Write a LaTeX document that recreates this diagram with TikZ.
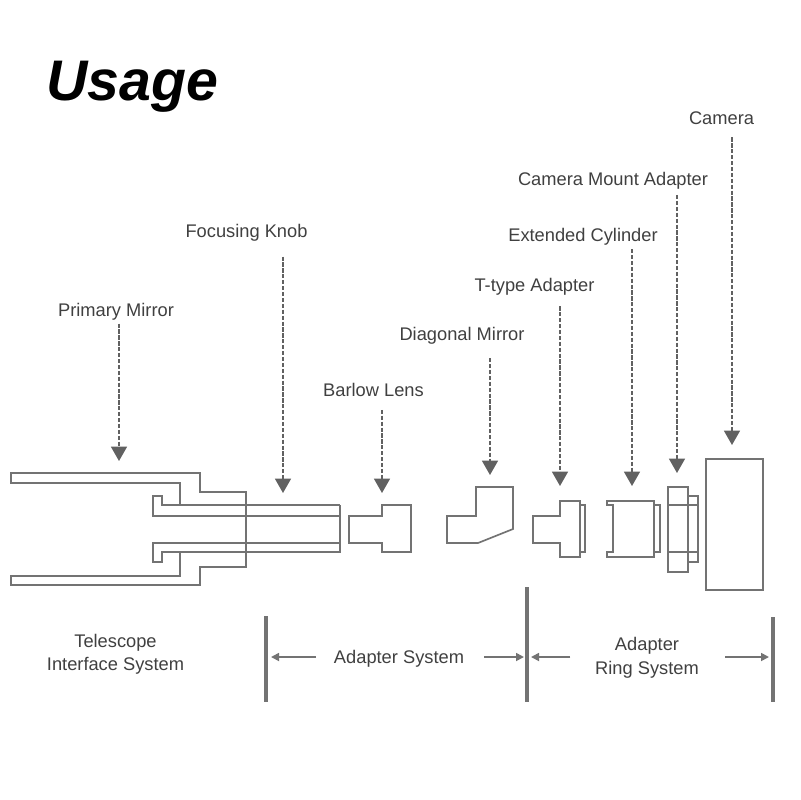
\documentclass[tikz,border=0pt]{standalone}
\usepackage{fontspec}
\setmainfont{Liberation Sans}
\usetikzlibrary{arrows.meta}

\begin{document}
\begin{tikzpicture}[
			x=0.025cm,
			y=-0.025cm,
			labeltext/.style={
					anchor=base,
					inner sep=1pt,
					align=center,
					text=black!75,
					font=\fontsize{13}{16.6}\selectfont
				},
			part/.style={
					draw=black!55,
					line width=1.2pt,
					line join=miter
				},
			divider/.style={
					draw=black!55,
					line width=2.2pt
				},
			leaderarrow/.style={
			-{Triangle[length=0.36cm,width=0.4cm]},
			draw=black!55,
			color=black!62,
			line width=1.15pt,
			dash pattern=on 3pt off 1.2pt
			},
			spanarrow/.style={
			-{Triangle[length=0.2cm,width=0.2cm]},
			draw=black!55,
			color=black!55,
			line width=1.2pt
			}
			]
			\useasboundingbox (0,0) rectangle (800,800);

			% ================= 标题 =================
			\node[anchor=base west, inner sep=0pt, font=\fontsize{40.7}{44}\selectfont\bfseries\itshape] (title) at (46,101) {Usage};

			% ================= 部件名称 =================
			\node[labeltext] (primary) at (116,316) {Primary Mirror};
			\node[labeltext] (focusing) at (246.5,237) {Focusing Knob};
			\node[labeltext] (barlow) at (373.5,396) {Barlow Lens};
			\node[labeltext] (diagonal) at (462,340) {Diagonal Mirror};
			\node[labeltext] (ttype) at (534.5,291) {T-type Adapter};
			\node[labeltext] (cylinder) at (583,241.5) {Extended Cylinder};
			\node[labeltext] (mount) at (613,186) {Camera Mount Adapter};
			\node[labeltext] (camera) at (721.5,125) {Camera};

			% ================= 箭头落点 =================
			\coordinate (primarytip) at (119,461);
			\coordinate (focusingtip) at (283,493);
			\coordinate (barlowtip) at (382,493);
			\coordinate (diagonaltip) at (490,475);
			\coordinate (ttypetip) at (560,486);
			\coordinate (cylindertip) at (632,486);
			\coordinate (mounttip) at (677,473);
			\coordinate (cameratip) at (732,445);

			% ================= 虚线引线 =================
			\draw[leaderarrow, shorten <=1.5pt] (primary.south -| primarytip) -- (primarytip);
			\draw[leaderarrow, shorten <=10pt] (focusing.south -| focusingtip) -- (focusingtip);
			\draw[leaderarrow, shorten <=8.5pt] (barlow.south -| barlowtip) -- (barlowtip);
			\draw[leaderarrow, shorten <=9pt] (diagonal.south -| diagonaltip) -- (diagonaltip);
			\draw[leaderarrow, shorten <=7pt] (ttype.south -| ttypetip) -- (ttypetip);
			\draw[leaderarrow, shorten <=1.5pt] (cylinder.south -| cylindertip) -- (cylindertip);
			\draw[leaderarrow, shorten <=2.5pt] (mount.south -| mounttip) -- (mounttip);
			\draw[leaderarrow, shorten <=7.5pt] (camera.south -| cameratip) -- (cameratip);

			% ================= 望远镜接口 =================
			\draw[part]
			(180,505) -- (180,483) -- (11,483) -- (11,473) -- (200,473) -- (200,492) -- (246,492)
			-- (246,567) -- (200,567) -- (200,585) -- (11,585) -- (11,576) -- (180,576) -- (180,552);
			\draw[part]
			(340,505) -- (162,505) -- (162,496) -- (153,496) -- (153,516) -- (340,516);
			\draw[part]
			(340,543) -- (153,543) -- (153,562) -- (162,562) -- (162,552) -- (340,552) -- cycle;
			\draw[part] (340,505) -- (340,543);

			% ================= 巴洛镜与天顶镜 =================
			\draw[part]
			(349,516) -- (382,516) -- (382,505) -- (411,505) -- (411,552) -- (382,552) -- (382,543) -- (349,543) -- cycle;
			\draw[part]
			(447,516) -- (476,516) -- (476,487) -- (513,487) -- (513,529) -- (478,543) -- (447,543) -- cycle;

			% ================= T接口 =================
			\draw[part]
			(533,516) -- (560,516) -- (560,501) -- (580,501) -- (580,505) -- (585,505) -- (585,552)
			-- (580,552) -- (580,557) -- (560,557) -- (560,543) -- (533,543) -- cycle;
			\draw[part] (580,505) -- (580,552);

			% ================= 延长筒 =================
			\draw[part]
			(607,501) -- (654,501) -- (654,557) -- (607,557) -- (607,552) -- (613,552) -- (613,505) -- (607,505) -- cycle;
			\draw[part]
			(654,505) -- (660,505) -- (660,552) -- (654,552);

			% ================= 相机接口与相机 =================
			\draw[part] (668,487) rectangle (688,572);
			\draw[part] (688,496) rectangle (698,562);
			\draw[part] (668,505) -- (698,505);
			\draw[part] (668,552) -- (698,552);
			\draw[part] (706,459) rectangle (763,590);

			% ================= 分隔竖线 =================
			\draw[divider] (266,616) -- (266,702);
			\draw[divider] (527,587) -- (527,702);
			\draw[divider] (773,617) -- (773,702);

			% ================= 系统名称 =================
			\node[labeltext] (telescopesys) at (115.5,670.5) {Telescope\\Interface System};
			\node[labeltext] (adaptersys) at (399,663) {Adapter System};
			\node[labeltext] (ringsys) at (647,674) {Adapter\\Ring System};

			% ================= 范围箭头 =================
			\coordinate (adapterleft) at (271,657);
			\coordinate (adapterright) at (524,657);
			\coordinate (ringleft) at (531,657);
			\coordinate (ringright) at (769,657);
			\draw[spanarrow, shorten <=11.5pt] (adaptersys.west |- adapterleft) -- (adapterleft);
			\draw[spanarrow, shorten <=13pt] (adaptersys.east |- adapterright) -- (adapterright);
			\draw[spanarrow, shorten <=16.5pt] (ringsys.west |- ringleft) -- (ringleft);
			\draw[spanarrow, shorten <=17.5pt] (ringsys.east |- ringright) -- (ringright);

		\end{tikzpicture}
\end{document}
